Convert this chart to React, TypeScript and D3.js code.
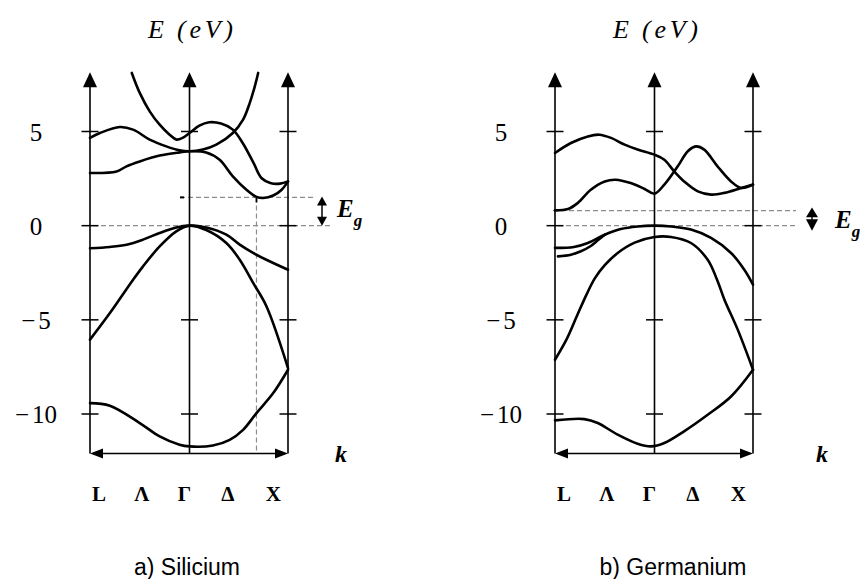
import React from "react";
import * as d3 from "d3";

type Pt = [number, number];

// Energy axis ticks (eV) and symmetry points along k (L = -1, Γ = 0, X = 1)
const energyTicks = [5, 0, -5, -10];
const kLabels = ["L", "Λ", "Γ", "Δ", "X"];
const kLabelPos = [-0.91, -0.48, -0.05, 0.39, 0.85];

// Silicon bands [k, E]
const siBandA: Pt[] = [[-0.58, 8.11], [-0.5, 7.05], [-0.4, 6.07], [-0.3, 5.36], [-0.2, 4.83], [-0.13, 4.57], [-0.07, 4.66], [0, 4.92], [0.1, 5.31], [0.2, 5.49], [0.32, 5.42], [0.44, 5.1], [0.54, 4.39], [0.65, 3.33], [0.73, 2.53], [0.82, 2.27], [0.92, 2.23], [1, 2.35]];
const siBandB: Pt[] = [[-1, 4.66], [-0.9, 4.92], [-0.7, 5.24], [-0.567, 5.1], [-0.4, 4.57], [-0.233, 4.21], [-0.1, 4.0], [0, 3.95], [0.136, 4.04], [0.272, 4.3], [0.44, 4.92], [0.544, 5.63], [0.612, 6.52], [0.663, 7.4], [0.697, 8.11]];
const siBandC: Pt[] = [[-1, 2.8], [-0.733, 2.88], [-0.633, 3.15], [-0.5, 3.41], [-0.3, 3.72], [-0.1, 3.89], [0, 3.95], [0.17, 3.89], [0.306, 3.5], [0.44, 2.62], [0.578, 1.91], [0.68, 1.53], [0.75, 1.47], [0.85, 1.6], [0.936, 1.91], [1, 2.35]];
const siBandD: Pt[] = [[-1, -1.2], [-0.8, -1.13], [-0.633, -1.01], [-0.467, -0.74], [-0.3, -0.39], [-0.133, -0.1], [0, 0], [0.17, -0.1], [0.374, -0.48], [0.51, -1.01], [0.646, -1.45], [0.78, -1.81], [1, -2.34]];
const siBandE: Pt[] = [[-1, -6.05], [-0.8, -4.64], [-0.567, -2.87], [-0.467, -2.16], [-0.3, -1.1], [-0.133, -0.3], [0, 0], [0.17, -0.23], [0.374, -0.92], [0.51, -1.81], [0.646, -3.04], [0.782, -4.29], [1, -7.56]];
const siBandF: Pt[] = [[-1, -9.42], [-0.8, -9.56], [-0.5, -10.48], [-0.3, -11.19], [-0.1, -11.63], [0, -11.72], [0.238, -11.67], [0.408, -11.37], [0.544, -10.84], [0.68, -9.95], [0.85, -8.89], [1, -7.65]];

// Germanium bands [k, E]
const geBandA: Pt[] = [[-1, 3.86], [-0.84, 4.39], [-0.67, 4.74], [-0.555, 4.83], [-0.437, 4.66], [-0.3, 4.3], [-0.17, 4.04], [0, 3.77], [0.1, 3.5], [0.2, 2.88], [0.3, 2.35], [0.44, 1.82], [0.574, 1.65], [0.71, 1.74], [0.88, 2.0], [1, 2.18]];
const geBandB: Pt[] = [[-1, 0.81], [-0.87, 0.88], [-0.77, 1.21], [-0.64, 1.91], [-0.5, 2.35], [-0.39, 2.44], [-0.24, 2.26], [-0.1, 1.95], [0, 1.7], [0.1, 2.18], [0.236, 3.15], [0.338, 3.95], [0.42, 4.21], [0.505, 4.04], [0.64, 3.15], [0.777, 2.35], [0.88, 2.0], [1, 2.18]];
const geBandC: Pt[] = [[-1, -1.18], [-0.81, -1.13], [-0.67, -0.92], [-0.5, -0.48], [-0.34, -0.18], [-0.17, -0.04], [0, 0], [0.168, -0.04], [0.37, -0.21], [0.574, -0.65], [0.777, -1.45], [0.912, -2.34], [1, -3.13]];
const geBandC2: Pt[] = [[-0.97, -1.63], [-0.84, -1.54], [-0.74, -1.36], [-0.64, -1.08], [-0.57, -0.78], [-0.5, -0.48]];
const geBandD: Pt[] = [[-1, -7.12], [-0.88, -6.0], [-0.78, -4.8], [-0.68, -3.62], [-0.6, -2.8], [-0.5, -2.1], [-0.37, -1.45], [-0.2, -0.9], [0, -0.6], [0.168, -0.6], [0.37, -0.92], [0.54, -1.81], [0.635, -2.87], [0.71, -3.93], [0.845, -5.52], [1, -7.65]];
const geBandE: Pt[] = [[-1, -10.34], [-0.705, -10.27], [-0.57, -10.48], [-0.37, -11.1], [-0.17, -11.58], [-0.035, -11.72], [0.1, -11.54], [0.3, -10.92], [0.54, -10.04], [0.777, -9.07], [1, -7.65]];

const siBands = [siBandA, siBandB, siBandC, siBandD, siBandE, siBandF];
const geBands = [geBandA, geBandB, geBandC, geBandC2, geBandD, geBandE];

// Gap levels (eV)
const siGap = 1.5;
const geGap = 0.8;

const W = 862;
const H = 579;
const serif = "'Liberation Serif', 'DejaVu Serif', serif";
const sans = "'Liberation Sans', Arial, sans-serif";

const yScale = d3.scaleLinear().domain([-10, 5]).range([414, 131.5]);
const eTop = 8.15;
const eBottom = -12.1;

interface PanelProps {
  dx: number;
  bands: Pt[][];
  caption: string;
  captionX: number;
  gap: number;
  gapLine: [number, number];
  zeroLine: [number, number];
  gapDrop?: number;
  egArrowX: number;
  egTextX: number;
  egTextY: number;
  diamond?: boolean;
  kX: number;
}

function Panel(p: PanelProps) {
  const x = d3.scaleLinear().domain([-1, 0, 1]).range([90 + p.dx, 189.5 + p.dx, 288 + p.dx]);
  const y = yScale;
  const line = d3
    .line<Pt>()
    .x((d) => x(d[0]))
    .y((d) => y(d[1]))
    .curve(d3.curveCatmullRom.alpha(0.5));
  const axisKs = [-1, 0, 1];
  const topY = y(eTop);
  const botY = y(eBottom);
  const gy = y(p.gap);
  const zy = y(0);
  const ax = p.egArrowX;

  return (
    <g>
      {/* axis title */}
      <text x={148 + p.dx} y={38} fontFamily={serif} fontStyle="italic" fontSize={26}>
        E
        <tspan x={177 + p.dx} textLength={56} lengthAdjust="spacing">
          (eV)
        </tspan>
      </text>

      {/* dashed reference levels */}
      <line x1={x(p.zeroLine[0])} x2={x(p.zeroLine[1])} y1={zy} y2={zy} stroke="#8c8c8c" strokeWidth={1.2} strokeDasharray="5 3" />
      <line x1={x(p.gapLine[0])} x2={x(p.gapLine[1])} y1={gy} y2={gy} stroke="#8c8c8c" strokeWidth={1.2} strokeDasharray="5 3" />
      {p.gapDrop !== undefined && (
        <g>
          <line x1={x(p.gapDrop)} x2={x(p.gapDrop)} y1={gy} y2={botY} stroke="#8c8c8c" strokeWidth={1.2} strokeDasharray="5 3" />
          <line x1={x(p.gapDrop)} x2={x(p.gapDrop)} y1={gy} y2={gy + 5} stroke="#000" strokeWidth={1.8} />
          <line x1={x(p.gapLine[0])} x2={x(p.gapLine[0]) + 4} y1={gy} y2={gy} stroke="#000" strokeWidth={2} />
        </g>
      )}

      {/* vertical axes with arrowheads and ticks */}
      {axisKs.map((k) => {
        const ux = x(k);
        return (
          <g key={k}>
            <line x1={ux} x2={ux} y1={topY + 6} y2={botY} stroke="#000" strokeWidth={1.6} />
            <path d={`M${ux},${topY} L${ux + 7},${topY + 15} L${ux - 7},${topY + 15} Z`} fill="#000" />
            {energyTicks.map((t) => (
              <line key={t} x1={ux - 8.5} x2={ux + 8.5} y1={y(t)} y2={y(t)} stroke="#000" strokeWidth={1.5} />
            ))}
          </g>
        );
      })}

      {/* k axis: double arrow */}
      <line x1={x(-1) + 4} x2={x(1) - 4} y1={botY} y2={botY} stroke="#000" strokeWidth={1.6} />
      <path d={`M${x(-1)},${botY} L${x(-1) + 13},${botY - 5} L${x(-1) + 13},${botY + 5} Z`} fill="#000" />
      <path d={`M${x(1)},${botY} L${x(1) - 13},${botY - 5} L${x(1) - 13},${botY + 5} Z`} fill="#000" />

      {/* bands */}
      {p.bands.map((b, i) => (
        <path key={i} d={line(b) ?? ""} fill="none" stroke="#000" strokeWidth={2.6} strokeLinejoin="round" strokeLinecap="round" />
      ))}

      {/* energy tick labels */}
      {energyTicks.map((t) => (
        <text key={t} x={36 + p.dx} y={y(t) + 9} textAnchor="middle" fontFamily={serif} fontSize={25} fill="#000">
          {t < 0 ? (
            <>
              <tspan>−</tspan>
              <tspan dx={3}>{Math.abs(t)}</tspan>
            </>
          ) : (
            String(t)
          )}
        </text>
      ))}

      {/* symmetry point labels */}
      {kLabels.map((s, i) => (
        <text key={s} x={x(kLabelPos[i])} y={501} textAnchor="middle" fontFamily={serif} fontWeight="bold" fontSize={21}>
          {s}
        </text>
      ))}

      <text x={p.kX} y={462} textAnchor="middle" fontFamily={serif} fontStyle="italic" fontWeight="bold" fontSize={24}>
        k
      </text>

      {/* band-gap marker */}
      {p.diamond ? (
        <g>
          <path d={`M${ax},${gy - 3} L${ax + 6},${(gy + zy) / 2 - 1} L${ax - 6},${(gy + zy) / 2 - 1} Z`} fill="#000" />
          <path d={`M${ax},${zy + 5} L${ax + 6},${(gy + zy) / 2 + 1} L${ax - 6},${(gy + zy) / 2 + 1} Z`} fill="#000" />
          <line x1={ax} x2={ax} y1={gy} y2={zy + 3} stroke="#000" strokeWidth={1.4} />
        </g>
      ) : (
        <g>
          <line x1={ax} x2={ax} y1={gy + 4} y2={zy - 4} stroke="#000" strokeWidth={1.5} />
          <path d={`M${ax},${gy - 1} L${ax + 5},${gy + 8} L${ax - 5},${gy + 8} Z`} fill="#000" />
          <path d={`M${ax},${zy} L${ax + 5},${zy - 9} L${ax - 5},${zy - 9} Z`} fill="#000" />
        </g>
      )}
      <text x={p.egTextX} y={p.egTextY} fontFamily={serif} fontStyle="italic" fontWeight="bold" fontSize={25}>
        E
        <tspan dy={9} fontSize={17}>
          g
        </tspan>
      </text>

      {/* caption */}
      <text x={p.captionX} y={575} textAnchor="middle" fontFamily={sans} fontSize={23}>
        {p.caption}
      </text>
    </g>
  );
}

export default function App() {
  return (
    <svg width={W} height={H} viewBox={`0 0 ${W} ${H}`} style={{ position: "absolute", left: 0, top: 0, background: "#fff" }}>
      <rect width={W} height={H} fill="#fff" />
      <Panel
        dx={0}
        bands={siBands}
        caption="a) Silicium"
        captionX={187}
        gap={siGap}
        gapLine={[-0.095, 1.254]}
        zeroLine={[-0.97, 1.426]}
        gapDrop={0.68}
        egArrowX={322}
        egTextX={337}
        egTextY={217}
        kX={341}
      />
      <Panel
        dx={465}
        bands={geBands}
        caption="b) Germanium"
        captionX={673}
        gap={geGap}
        gapLine={[-1.02, 1.437]}
        zeroLine={[-0.97, 1.437]}
        egArrowX={812}
        egTextX={835}
        egTextY={228}
        diamond
        kX={822}
      />
    </svg>
  );
}
